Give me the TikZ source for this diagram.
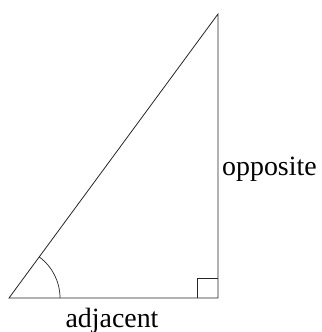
\documentclass[tikz,border=0pt]{standalone}
\usepackage{fontspec}
\setmainfont{Liberation Serif}
\usetikzlibrary{positioning,calc}

\begin{document}
\begin{tikzpicture}[
    x=1bp, y=1bp,
    side/.style={line width=0.8bp, black!85},
    anglemark/.style={line width=0.7bp, black!85},
    lab/.style={font=\fontsize{28}{31}\selectfont, inner sep=0pt}
  ]
    \useasboundingbox (0,0) rectangle (322,332);

    \coordinate (A) at (9,34);
    \coordinate (B) at (218,34);
    \coordinate (C) at (218,318);

    \draw[side] (A) -- (B) -- (C) -- cycle;
    \draw[anglemark] ($(A)+(51,0)$) arc[start angle=0, end angle=53.6, radius=51];
    \draw[anglemark] ($(B)+(-21,0)$) |- ($(B)+(0,20)$);

    \node[lab, anchor=base west] (opp) at (222,157) {opposite};
    \node[lab, anchor=base] (adj) at (112,5) {adjacent};
  \end{tikzpicture}
\end{document}
